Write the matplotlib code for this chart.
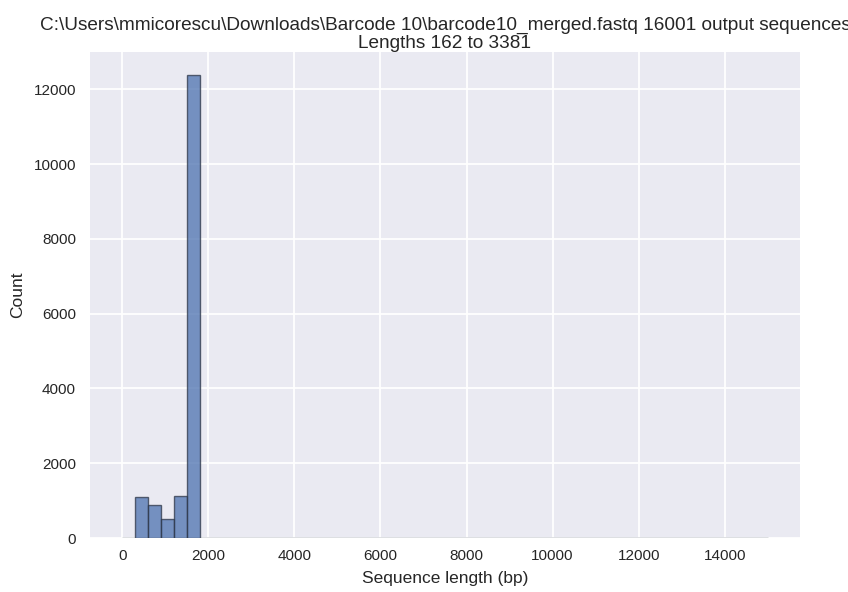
import numpy as np
import matplotlib
matplotlib.use('Agg')
import matplotlib.pyplot as plt

###################################
#     Data                      ###
###################################

bin_width = 300
bin_edges = np.arange(0, 15000 + bin_width, bin_width)

# counts per 300 bp bin (bins from 3600 up are empty)
counts_low = [5, 1097, 875, 500, 1124, 12380, 8, 4, 3, 2, 1, 1]
counts = counts_low + [0] * (len(bin_edges) - 1 - len(counts_low))

title = ('C:\\Users\\mmicorescu\\Downloads\\Barcode 10\\barcode10_merged.fastq '
         '16001 output sequences\nLengths 162 to 3381')

###################################
#     Plot                      ###
###################################

plt.style.use('seaborn-v0_8-darkgrid')
plt.rcParams['font.family'] = ['Liberation Sans', 'DejaVu Sans']

fig, ax = plt.subplots(figsize=(8.48, 5.92), dpi=100)
fig.subplots_adjust(left=90 / 848, right=800 / 848, top=1 - 52 / 592, bottom=1 - 538 / 592)

ax.bar(bin_edges[:-1], counts, width=bin_width, align='edge',
       color='#4c72b0', alpha=0.75, edgecolor='#2d3646', linewidth=1)

ax.set_xlim(-750, 15750)
ax.set_ylim(0, max(counts) * 1.05)
ax.set_xticks(np.arange(0, 15000, 2000))
ax.set_yticks(np.arange(0, 13000, 2000))
ax.grid(True, color='white', linewidth=1.3)
ax.set_axisbelow(True)

ax.set_xlabel('Sequence length (bp)', fontsize=12.5, labelpad=6)
ax.set_ylabel('Count', fontsize=12.5, labelpad=6)
ax.set_title(title, fontsize=13.7, linespacing=1.1, pad=3)
ax.tick_params(axis='x', labelsize=11, pad=8)
ax.tick_params(axis='y', labelsize=11, pad=10)

plt.savefig('out.png', dpi=100)
